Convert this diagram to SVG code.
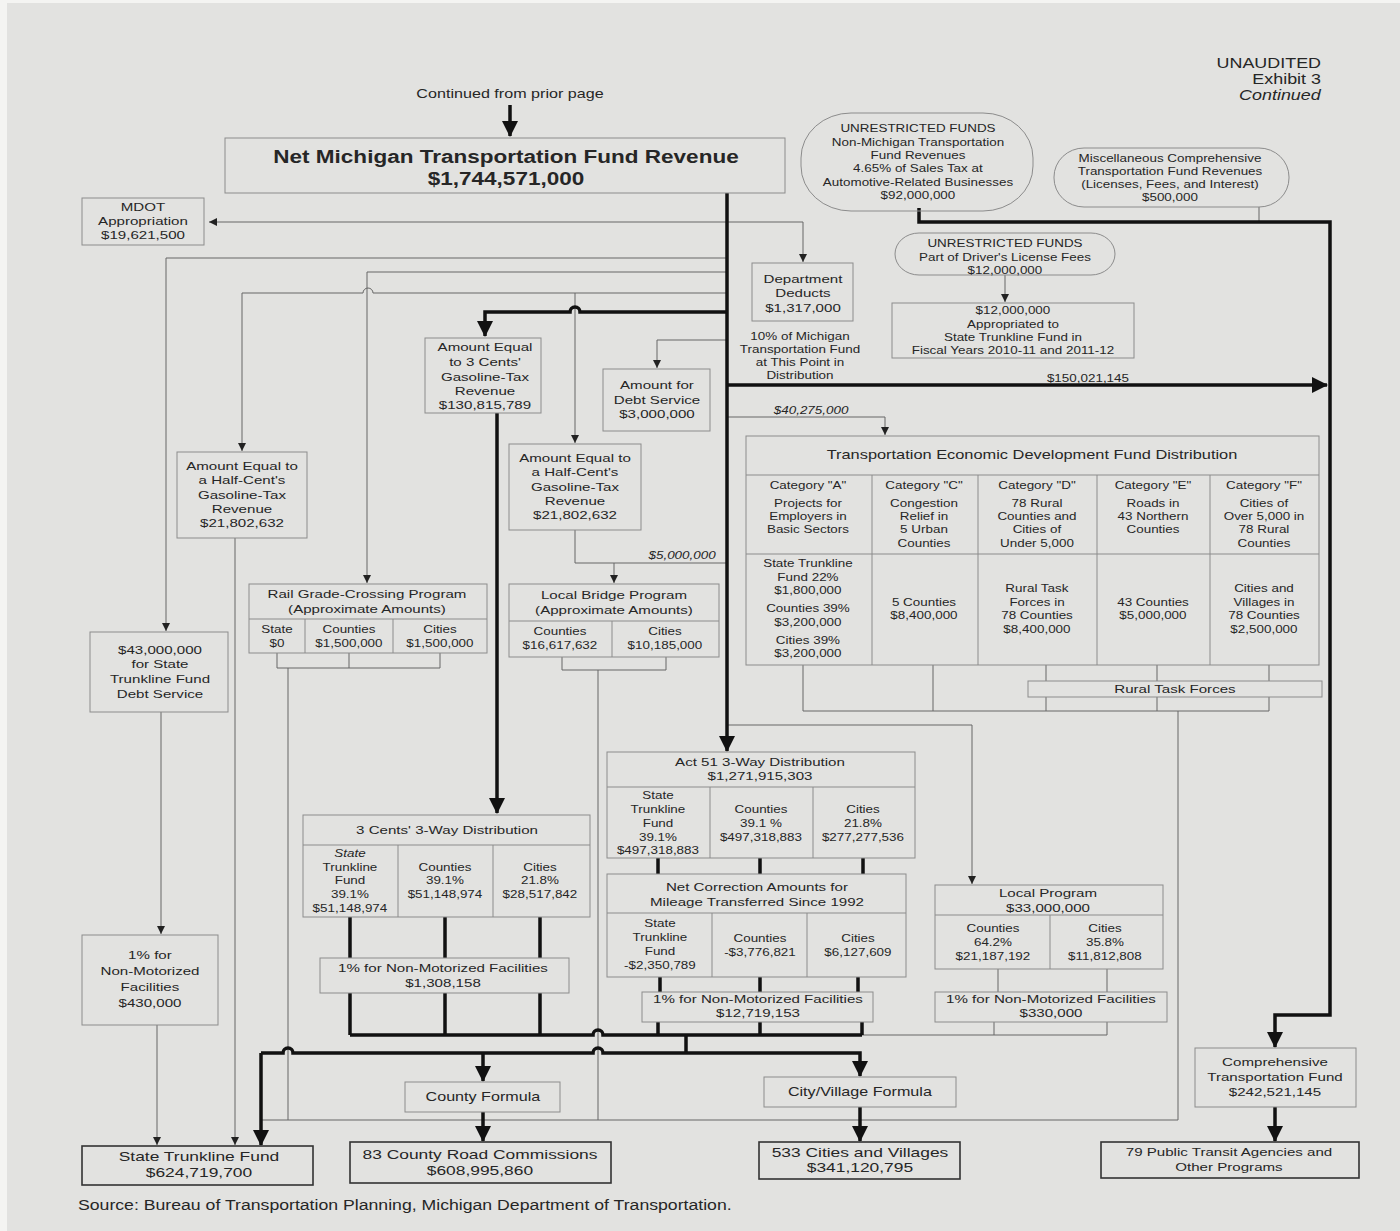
<svg xmlns="http://www.w3.org/2000/svg" width="1400" height="1231" viewBox="0 0 1400 1231">
<style>
text{font-family:"Liberation Sans",Arial,sans-serif;fill:#262626;text-anchor:middle;font-size:11.8px;transform-box:fill-box;transform-origin:center;transform:scaleX(1.28);}
.L{text-anchor:start;transform-origin:left center}
.R{text-anchor:end;transform-origin:right center}
.b{font-weight:bold}
.i{font-style:italic}
.f10{font-size:10.5px}
.f12{font-size:12.6px}
.f13{font-size:13.6px}
.f14{font-size:14px}
.f17{font-size:17.6px}
.box{fill:none;stroke:#8c8c8c;stroke-width:1}
.dk{fill:none;stroke:#333;stroke-width:1.6}
.thin{fill:none;stroke:#666;stroke-width:1}
.thick{fill:none;stroke:#111;stroke-width:3.5}
</style>
<defs>
<marker id="ah" viewBox="0 0 8 8" refX="8" refY="4" markerWidth="8" markerHeight="8" orient="auto" markerUnits="userSpaceOnUse"><path d="M0,0L8,4L0,8z" fill="#222"/></marker>
<marker id="AH" viewBox="0 0 16 16" refX="15" refY="8" markerWidth="16" markerHeight="16" orient="auto" markerUnits="userSpaceOnUse"><path d="M0,0L16,8L0,16z" fill="#111"/></marker>
</defs>
<rect width="1400" height="1231" fill="#f4f4f2"/>
<rect x="7" y="3" width="1393" height="1228" fill="#e2e2e0"/>

<g id="connectors">
<g class="thin">
<path d="M727,222H209" marker-end="url(#ah)"/>
<path d="M727,222H803V262" marker-end="url(#ah)"/>
<path d="M727,258H166V631" marker-end="url(#ah)"/>
<path d="M727,272H367V583" marker-end="url(#ah)"/>
<path d="M727,293H373a5,5 0 0 0 -10,0H242V451" marker-end="url(#ah)"/>
<path d="M575,293V443" marker-end="url(#ah)"/>
<path d="M727,340H657V368" marker-end="url(#ah)"/>
<path d="M727,417H885V435" marker-end="url(#ah)"/>
<path d="M575,530V563H727"/>
<path d="M614,563V583" marker-end="url(#ah)"/>
<path d="M161,712V934" marker-end="url(#ah)"/>
<path d="M157,1025V1145" marker-end="url(#ah)"/>
<path d="M235,538V1145" marker-end="url(#ah)"/>
<path d="M277,653V668M349,653V668M440,653V668M277,668H440M288,668V1120"/>
<path d="M562,657V670M666,657V670M562,670H666M598,670V1120"/>
<path d="M803,665V711M933,665V711M1046,665V681M1046,697V711M1157,665V681M1157,697V711M1269,665V681M1269,697V711M803,711H1269M1178,711V1120"/>
<path d="M261,1120H1178"/>
<path d="M727,725H972V884" marker-end="url(#ah)"/>
<path d="M998,969V992M1107,969V992M994,1022V1035M1107,1022V1035M862,1035H1107"/>
<path d="M1259,207V222"/>
<path d="M1005,275V302" marker-end="url(#ah)"/>
</g>
<g class="thick">
<path d="M510,105V136" marker-end="url(#AH)"/>
<path d="M727,193V751" marker-end="url(#AH)"/>
<path d="M727,312H580a5,5 0 0 0 -10,0H485V336" marker-end="url(#AH)"/>
<path d="M727,385H1327" marker-end="url(#AH)"/>
<path d="M497,413V813" marker-end="url(#AH)"/>
<path d="M919,208V222H1330V1015H1275V1047" marker-end="url(#AH)"/>
<path d="M350,917V958M445,917V958M540,917V958M350,993V1035M445,993V1035M540,993V1035"/>
<path d="M658,858V874M760,858V874M863,858V874M660,977V992M760,977V992M858,977V992M658,1022V1035M760,1022V1035M862,1022V1035"/>
<path d="M350,1035H593a5,5 0 0 1 10,0H862"/>
<path d="M686,1035V1053"/>
<path d="M261,1053V1145" marker-end="url(#AH)"/>
<path d="M261,1053H283a5,5 0 0 1 10,0H593a5,5 0 0 1 10,0H860V1076" marker-end="url(#AH)"/>
<path d="M483,1053V1081" marker-end="url(#AH)"/>
<path d="M483,1112V1141" marker-end="url(#AH)"/>
<path d="M860,1107V1141" marker-end="url(#AH)"/>
<path d="M1275,1107V1141" marker-end="url(#AH)"/>
</g>
</g>

<g id="header">
<text class="R f14" x="1321" y="68">UNAUDITED</text>
<text class="R f14" x="1321" y="84">Exhibit 3</text>
<text class="R f14 i" x="1321" y="100">Continued</text>
<text class="f12" x="510" y="98">Continued from prior page</text>
</g>

<g id="net-revenue">
<rect class="box" x="225" y="138" width="560" height="55"/>
<text class="b f17" x="506" y="163">Net Michigan Transportation Fund Revenue</text>
<text class="b f17" x="506" y="185">$1,744,571,000</text>
</g>

<g id="mdot">
<rect class="box" x="82" y="198" width="122" height="47"/>
<text x="143" y="211">MDOT</text>
<text x="143" y="225">Appropriation</text>
<text x="143" y="239">$19,621,500</text>
</g>

<g id="unrestricted-sales">
<rect class="box" x="801" y="113" width="232" height="98" rx="50" ry="45"/>
<text class="f10" x="918" y="132">UNRESTRICTED FUNDS</text>
<text class="f10" x="918" y="146">Non-Michigan Transportation</text>
<text class="f10" x="918" y="159">Fund Revenues</text>
<text class="f10" x="918" y="172">4.65% of Sales Tax at</text>
<text class="f10" x="918" y="186">Automotive-Related Businesses</text>
<text class="f10" x="918" y="199">$92,000,000</text>
</g>

<g id="misc-ctf">
<rect class="box" x="1054" y="148" width="235" height="59" rx="30" ry="29"/>
<text class="f10" x="1170" y="162">Miscellaneous Comprehensive</text>
<text class="f10" x="1170" y="175">Transportation Fund Revenues</text>
<text class="f10" x="1170" y="188">(Licenses, Fees, and Interest)</text>
<text class="f10" x="1170" y="201">$500,000</text>
</g>

<g id="unrestricted-license">
<rect class="box" x="895" y="233" width="220" height="42" rx="24" ry="21"/>
<text class="f10" x="1005" y="247">UNRESTRICTED FUNDS</text>
<text class="f10" x="1005" y="261">Part of Driver's License Fees</text>
<text class="f10" x="1005" y="274">$12,000,000</text>
</g>

<g id="appropriated-stf">
<rect class="box" x="892" y="303" width="242" height="55"/>
<text class="f10" x="1013" y="314">$12,000,000</text>
<text class="f10" x="1013" y="328">Appropriated to</text>
<text class="f10" x="1013" y="341">State Trunkline Fund in</text>
<text class="f10" x="1013" y="354">Fiscal Years 2010-11 and 2011-12</text>
</g>

<g id="dept-deducts">
<rect class="box" x="752" y="263" width="101" height="58"/>
<text x="803" y="283">Department</text>
<text x="803" y="297">Deducts</text>
<text x="803" y="312">$1,317,000</text>
</g>

<g id="labels">
<text class="f10" x="800" y="340">10% of Michigan</text>
<text class="f10" x="800" y="353">Transportation Fund</text>
<text class="f10" x="800" y="366">at This Point in</text>
<text class="f10" x="800" y="379">Distribution</text>
<text class="f10" x="1088" y="382">$150,021,145</text>
<text class="i f10" x="811" y="414">$40,275,000</text>
<text class="i f10" x="682" y="559">$5,000,000</text>
</g>

<g id="three-cents-revenue">
<rect class="box" x="425" y="338" width="116" height="75"/>
<text x="485" y="351">Amount Equal</text>
<text x="485" y="366">to 3 Cents'</text>
<text x="485" y="381">Gasoline-Tax</text>
<text x="485" y="395">Revenue</text>
<text x="485" y="409">$130,815,789</text>
</g>

<g id="debt-service">
<rect class="box" x="603" y="369" width="107" height="62"/>
<text x="657" y="389">Amount for</text>
<text x="657" y="404">Debt Service</text>
<text x="657" y="418">$3,000,000</text>
</g>

<g id="half-cent-left">
<rect class="box" x="177" y="452" width="130" height="86"/>
<text x="242" y="470">Amount Equal to</text>
<text x="242" y="484">a Half-Cent's</text>
<text x="242" y="499">Gasoline-Tax</text>
<text x="242" y="513">Revenue</text>
<text x="242" y="527">$21,802,632</text>
</g>

<g id="half-cent-mid">
<rect class="box" x="509" y="444" width="132" height="86"/>
<text x="575" y="462">Amount Equal to</text>
<text x="575" y="476">a Half-Cent's</text>
<text x="575" y="491">Gasoline-Tax</text>
<text x="575" y="505">Revenue</text>
<text x="575" y="519">$21,802,632</text>
</g>

<g id="ted-fund">
<rect class="box" x="746" y="436" width="573" height="229"/>
<path class="box" d="M746,475H1319M746,554H1319M872,475V665M978,475V665M1097,475V665M1210,475V665"/>
<text class="f13" x="1032" y="459" style="font-size:12.8px">Transportation Economic Development Fund Distribution</text>
<text class="f10" x="808" y="489">Category "A"</text>
<text class="f10" x="808" y="507">Projects for</text>
<text class="f10" x="808" y="520">Employers in</text>
<text class="f10" x="808" y="533">Basic Sectors</text>
<text class="f10" x="924" y="489">Category "C"</text>
<text class="f10" x="924" y="507">Congestion</text>
<text class="f10" x="924" y="520">Relief in</text>
<text class="f10" x="924" y="533">5 Urban</text>
<text class="f10" x="924" y="547">Counties</text>
<text class="f10" x="1037" y="489">Category "D"</text>
<text class="f10" x="1037" y="507">78 Rural</text>
<text class="f10" x="1037" y="520">Counties and</text>
<text class="f10" x="1037" y="533">Cities of</text>
<text class="f10" x="1037" y="547">Under 5,000</text>
<text class="f10" x="1153" y="489">Category "E"</text>
<text class="f10" x="1153" y="507">Roads in</text>
<text class="f10" x="1153" y="520">43 Northern</text>
<text class="f10" x="1153" y="533">Counties</text>
<text class="f10" x="1264" y="489">Category "F"</text>
<text class="f10" x="1264" y="507">Cities of</text>
<text class="f10" x="1264" y="520">Over 5,000 in</text>
<text class="f10" x="1264" y="533">78 Rural</text>
<text class="f10" x="1264" y="547">Counties</text>
<text class="f10" x="808" y="567">State Trunkline</text>
<text class="f10" x="808" y="581">Fund 22%</text>
<text class="f10" x="808" y="594">$1,800,000</text>
<text class="f10" x="808" y="612">Counties 39%</text>
<text class="f10" x="808" y="626">$3,200,000</text>
<text class="f10" x="808" y="644">Cities 39%</text>
<text class="f10" x="808" y="657">$3,200,000</text>
<text class="f10" x="924" y="606">5 Counties</text>
<text class="f10" x="924" y="619">$8,400,000</text>
<text class="f10" x="1037" y="592">Rural Task</text>
<text class="f10" x="1037" y="606">Forces in</text>
<text class="f10" x="1037" y="619">78 Counties</text>
<text class="f10" x="1037" y="633">$8,400,000</text>
<text class="f10" x="1153" y="606">43 Counties</text>
<text class="f10" x="1153" y="619">$5,000,000</text>
<text class="f10" x="1264" y="592">Cities and</text>
<text class="f10" x="1264" y="606">Villages in</text>
<text class="f10" x="1264" y="619">78 Counties</text>
<text class="f10" x="1264" y="633">$2,500,000</text>
</g>

<g id="rural-task-forces">
<rect class="box" x="1028" y="681" width="294" height="16"/>
<text x="1175" y="693">Rural Task Forces</text>
</g>

<g id="rail-grade">
<rect class="box" x="249" y="584" width="238" height="69"/>
<path class="box" d="M249,619H487M305,619V653M393,619V653"/>
<text x="367" y="598">Rail Grade-Crossing Program</text>
<text x="367" y="613">(Approximate Amounts)</text>
<text class="f10" x="277" y="633">State</text>
<text class="f10" x="277" y="647">$0</text>
<text class="f10" x="349" y="633">Counties</text>
<text class="f10" x="349" y="647">$1,500,000</text>
<text class="f10" x="440" y="633">Cities</text>
<text class="f10" x="440" y="647">$1,500,000</text>
</g>

<g id="local-bridge">
<rect class="box" x="509" y="584" width="210" height="73"/>
<path class="box" d="M509,621H719M612,621V657"/>
<text x="614" y="599">Local Bridge Program</text>
<text x="614" y="614">(Approximate Amounts)</text>
<text class="f10" x="560" y="635">Counties</text>
<text class="f10" x="560" y="649">$16,617,632</text>
<text class="f10" x="665" y="635">Cities</text>
<text class="f10" x="665" y="649">$10,185,000</text>
</g>

<g id="stf-debt">
<rect class="box" x="90" y="632" width="138" height="80"/>
<text x="160" y="654">$43,000,000</text>
<text x="160" y="668">for State</text>
<text x="160" y="683">Trunkline Fund</text>
<text x="160" y="698">Debt Service</text>
</g>

<g id="nonmotorized-430">
<rect class="box" x="82" y="935" width="136" height="90"/>
<text x="150" y="959">1% for</text>
<text x="150" y="975">Non-Motorized</text>
<text x="150" y="991">Facilities</text>
<text x="150" y="1007">$430,000</text>
</g>

<g id="act51">
<rect class="box" x="607" y="752" width="308" height="106"/>
<path class="box" d="M607,787H915M710,787V858M813,787V858"/>
<text x="760" y="766">Act 51 3-Way Distribution</text>
<text x="760" y="780">$1,271,915,303</text>
<text class="f10" x="658" y="799">State</text>
<text class="f10" x="658" y="813">Trunkline</text>
<text class="f10" x="658" y="827">Fund</text>
<text class="f10" x="658" y="841">39.1%</text>
<text class="f10" x="658" y="854">$497,318,883</text>
<text class="f10" x="761" y="813">Counties</text>
<text class="f10" x="761" y="827">39.1 %</text>
<text class="f10" x="761" y="841">$497,318,883</text>
<text class="f10" x="863" y="813">Cities</text>
<text class="f10" x="863" y="827">21.8%</text>
<text class="f10" x="863" y="841">$277,277,536</text>
</g>

<g id="net-correction">
<rect class="box" x="607" y="874" width="299" height="103"/>
<path class="box" d="M607,913H906M712,913V977M807,913V977"/>
<text x="757" y="891">Net Correction Amounts for</text>
<text x="757" y="906">Mileage Transferred Since 1992</text>
<text class="f10" x="660" y="927">State</text>
<text class="f10" x="660" y="941">Trunkline</text>
<text class="f10" x="660" y="955">Fund</text>
<text class="f10" x="660" y="969">-$2,350,789</text>
<text class="f10" x="760" y="942">Counties</text>
<text class="f10" x="760" y="956">-$3,776,821</text>
<text class="f10" x="858" y="942">Cities</text>
<text class="f10" x="858" y="956">$6,127,609</text>
</g>

<g id="nonmotorized-act51">
<rect class="box" x="642" y="992" width="231" height="30"/>
<text x="758" y="1003">1% for Non-Motorized Facilities</text>
<text x="758" y="1017">$12,719,153</text>
</g>

<g id="three-cents-dist">
<rect class="box" x="303" y="815" width="287" height="102"/>
<path class="box" d="M303,845H590M398,845V917M493,845V917"/>
<text x="447" y="834">3 Cents' 3-Way Distribution</text>
<text class="i f10" x="350" y="857">State</text>
<text class="f10" x="350" y="871">Trunkline</text>
<text class="f10" x="350" y="884">Fund</text>
<text class="f10" x="350" y="898">39.1%</text>
<text class="f10" x="350" y="912">$51,148,974</text>
<text class="f10" x="445" y="871">Counties</text>
<text class="f10" x="445" y="884">39.1%</text>
<text class="f10" x="445" y="898">$51,148,974</text>
<text class="f10" x="540" y="871">Cities</text>
<text class="f10" x="540" y="884">21.8%</text>
<text class="f10" x="540" y="898">$28,517,842</text>
</g>

<g id="nonmotorized-3c">
<rect class="box" x="320" y="958" width="249" height="35"/>
<text x="443" y="972">1% for Non-Motorized Facilities</text>
<text x="443" y="987">$1,308,158</text>
</g>

<g id="local-program">
<rect class="box" x="935" y="885" width="228" height="84"/>
<path class="box" d="M935,915H1163M1050,915V969"/>
<text x="1048" y="897">Local Program</text>
<text x="1048" y="912">$33,000,000</text>
<text class="f10" x="993" y="932">Counties</text>
<text class="f10" x="993" y="946">64.2%</text>
<text class="f10" x="993" y="960">$21,187,192</text>
<text class="f10" x="1105" y="932">Cities</text>
<text class="f10" x="1105" y="946">35.8%</text>
<text class="f10" x="1105" y="960">$11,812,808</text>
</g>

<g id="nonmotorized-local">
<rect class="box" x="935" y="992" width="232" height="30"/>
<text x="1051" y="1003">1% for Non-Motorized Facilities</text>
<text x="1051" y="1017">$330,000</text>
</g>

<g id="county-formula">
<rect class="box" x="405" y="1082" width="155" height="30"/>
<text class="f12" x="483" y="1101">County Formula</text>
</g>

<g id="city-formula">
<rect class="box" x="764" y="1077" width="192" height="30"/>
<text class="f12" x="860" y="1096">City/Village Formula</text>
</g>

<g id="comprehensive">
<rect class="box" x="1195" y="1048" width="161" height="59"/>
<text x="1275" y="1066">Comprehensive</text>
<text x="1275" y="1081">Transportation Fund</text>
<text x="1275" y="1096">$242,521,145</text>
</g>

<g id="stf">
<rect class="dk" x="82" y="1146" width="231" height="39"/>
<text class="f13" x="199" y="1161">State Trunkline Fund</text>
<text class="f13" x="199" y="1177">$624,719,700</text>
</g>

<g id="county-road">
<rect class="dk" x="350" y="1142" width="261" height="41"/>
<text class="f13" x="480" y="1159">83 County Road Commissions</text>
<text class="f13" x="480" y="1175">$608,995,860</text>
</g>

<g id="cities-villages">
<rect class="dk" x="759" y="1142" width="201" height="37"/>
<text class="f13" x="860" y="1157">533 Cities and Villages</text>
<text class="f13" x="860" y="1172">$341,120,795</text>
</g>

<g id="transit">
<rect class="dk" x="1101" y="1142" width="258" height="36"/>
<text x="1229" y="1156">79 Public Transit Agencies and</text>
<text x="1229" y="1171">Other Programs</text>
</g>

<g id="source">
<text class="L f13" x="78" y="1210" style="font-size:13.8px">Source:  Bureau of Transportation Planning, Michigan Department of Transportation.</text>
</g>
</svg>
